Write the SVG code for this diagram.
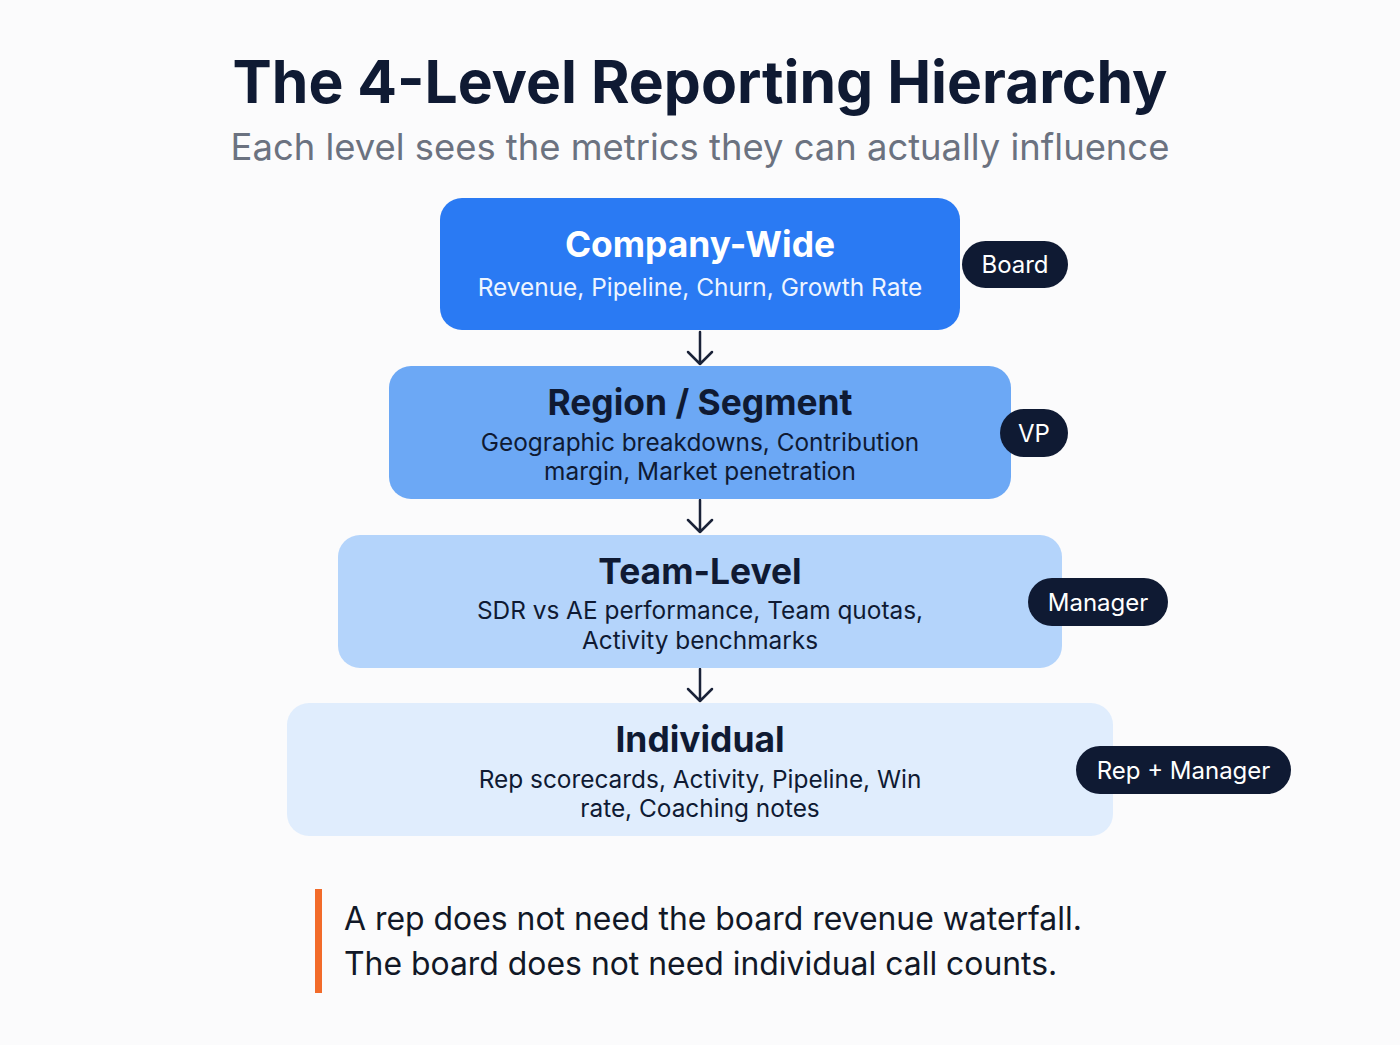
<svg xmlns="http://www.w3.org/2000/svg" width="1400" height="1045" viewBox="0 0 1400 1045">
<defs>
<style>
.t{font-family:Inter,"Noto Sans","Liberation Sans",sans-serif;}
.h{font-weight:700;font-size:35.4px;text-anchor:middle;}
.s{font-size:24.4px;text-anchor:middle;}
.pill{fill:#0f1a33;}
.pt{font-size:24px;fill:#ffffff;text-anchor:middle;}
.dark{fill:#0f1a33;}
.arr{stroke:#1a2238;stroke-width:2.5;fill:none;stroke-linecap:round;stroke-linejoin:round;}
</style>
</defs>
<rect width="1400" height="1045" fill="#fbfbfc"/>
<text class="t" x="700" y="103" font-size="58.8" font-weight="700" fill="#0f1a33" text-anchor="middle">The 4-Level Reporting Hierarchy</text>
<text class="t" x="700" y="160" font-size="36.4" fill="#6b7280" text-anchor="middle">Each level sees the metrics they can actually influence</text>

<g id="connectors">
<path class="arr" d="M700 332 V364 M688 352 L700 364 L712 352"/>
<path class="arr" d="M700 500 V532 M688 520 L700 532 L712 520"/>
<path class="arr" d="M700 669 V701 M688 689 L700 701 L712 689"/>
</g>

<g id="company-wide">
<rect x="440" y="198" width="520" height="132" rx="22" fill="#2a7af3"/>
<text class="t h" x="700" y="257" fill="#ffffff">Company-Wide</text>
<text class="t s" x="700" y="296" fill="#eef5ff">Revenue, Pipeline, Churn, Growth Rate</text>
</g>
<g id="board">
<rect class="pill" x="962" y="241" width="106" height="47" rx="23.5"/>
<text class="t pt" x="1015" y="273">Board</text>
</g>

<g id="region-segment">
<rect x="389" y="366" width="622" height="133" rx="22" fill="#6ca8f5"/>
<text class="t h dark" x="700" y="415">Region / Segment</text>
<text class="t s dark" x="700" y="451">Geographic breakdowns, Contribution</text>
<text class="t s dark" x="700" y="480">margin, Market penetration</text>
</g>
<g id="vp">
<rect class="pill" x="1000" y="409" width="68" height="48" rx="24"/>
<text class="t pt" x="1034" y="442">VP</text>
</g>

<g id="team-level">
<rect x="338" y="535" width="724" height="133" rx="22" fill="#b4d4fb"/>
<text class="t h dark" x="700" y="584">Team-Level</text>
<text class="t s dark" x="700" y="619">SDR vs AE performance, Team quotas,</text>
<text class="t s dark" x="700" y="649">Activity benchmarks</text>
</g>
<g id="manager">
<rect class="pill" x="1028" y="578" width="140" height="48" rx="24"/>
<text class="t pt" x="1098" y="611">Manager</text>
</g>

<g id="individual">
<rect x="287" y="703" width="826" height="133" rx="22" fill="#e0edfd"/>
<text class="t h dark" x="700" y="752">Individual</text>
<text class="t s dark" x="700" y="788">Rep scorecards, Activity, Pipeline, Win</text>
<text class="t s dark" x="700" y="817">rate, Coaching notes</text>
</g>
<g id="rep-manager">
<rect class="pill" x="1076" y="746" width="215" height="48" rx="24"/>
<text class="t pt" x="1183.5" y="779">Rep + Manager</text>
</g>

<g id="note">
<rect x="315" y="889" width="7" height="104" fill="#f26b2a"/>
<text class="t" x="344" y="930" font-size="31.9" fill="#111827">A rep does not need the board revenue waterfall.</text>
<text class="t" x="344" y="975" font-size="31.9" fill="#111827">The board does not need individual call counts.</text>
</g>
</svg>
